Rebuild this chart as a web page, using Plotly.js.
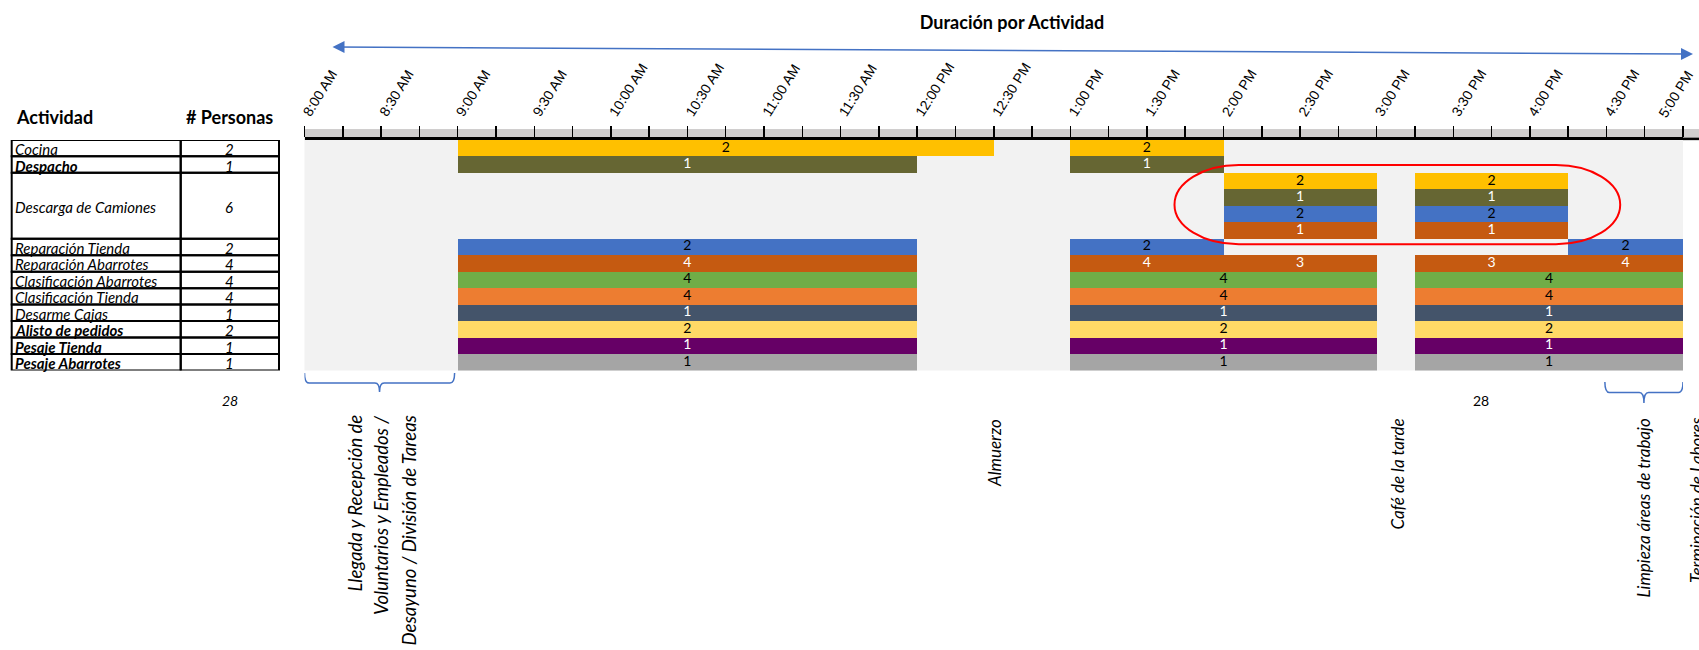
<!DOCTYPE html>
<html>
<head>
<meta charset="utf-8">
<script src="https://cdn.plot.ly/plotly-3.0.1.min.js"></script>
<style>
  html, body { margin: 0; padding: 0; background: #fff; }
  #grafico { width: 1699px; height: 650px; }
</style>
</head>
<body>
<div id="grafico"></div>
<script>
// Actividades de la jornada y personas asignadas a cada una
const actividades = ['Cocina', 'Despacho', 'Descarga de Camiones', 'Reparación Tienda',
  'Reparación Abarrotes', 'Clasificación Abarrotes', 'Clasificación Tienda', 'Desarme Cajas',
  'Alisto de pedidos', 'Pesaje Tienda', 'Pesaje Abarrotes'];
const personas = [2, 1, 6, 2, 4, 4, 4, 1, 2, 1, 1];
// Filas del diagrama que ocupa cada actividad (la descarga usa cuatro cuadrillas)
const filasPorActividad = [1, 1, 4, 1, 1, 1, 1, 1, 1, 1, 1];

// Escala horaria (horas decimales) y sus etiquetas
const horas = [8, 8.5, 9, 9.5, 10, 10.5, 11, 11.5, 12, 12.5, 13, 13.5, 14, 14.5, 15, 15.5, 16, 16.5, 17];
const etiquetasHora = ['8:00 AM', '8:30 AM', '9:00 AM', '9:30 AM', '10:00 AM', '10:30 AM', '11:00 AM',
  '11:30 AM', '12:00 PM', '12:30 PM', '1:00 PM', '1:30 PM', '2:00 PM', '2:30 PM', '3:00 PM',
  '3:30 PM', '4:00 PM', '4:30 PM', '5:00 PM'];

// Bloques de trabajo: fila, hora de inicio, hora de fin, personas y grupo
const bloqueFila = [0, 0, 1, 1, 2, 2, 3, 3, 4, 4, 5, 5, 6, 6, 6, 7, 7, 7, 7, 7,
  8, 8, 8, 9, 9, 9, 10, 10, 10, 11, 11, 11, 12, 12, 12, 13, 13, 13];
const bloqueInicio = [9, 13, 9, 13, 14, 15.25, 14, 15.25, 14, 15.25, 14, 15.25, 9, 13, 16.25,
  9, 13, 14, 15.25, 16.25, 9, 13, 15.25, 9, 13, 15.25, 9, 13, 15.25, 9, 13, 15.25,
  9, 13, 15.25, 9, 13, 15.25];
const bloqueFin = [12.5, 14, 12, 14, 15, 16.25, 15, 16.25, 15, 16.25, 15, 16.25, 12, 14, 17,
  12, 14, 15, 16.25, 17, 12, 15, 17, 12, 15, 17, 12, 15, 17, 12, 15, 17, 12, 15, 17, 12, 15, 17];
const bloquePersonas = [2, 2, 1, 1, 2, 2, 1, 1, 2, 2, 1, 1, 2, 2, 2, 4, 4, 3, 3, 4,
  4, 4, 4, 4, 4, 4, 1, 1, 1, 2, 2, 2, 1, 1, 1, 1, 1, 1];
const bloqueGrupo = ['cocina', 'cocina', 'despacho', 'despacho', 'cocina', 'cocina',
  'despacho', 'despacho', 'repTienda', 'repTienda', 'repAbarrotes', 'repAbarrotes',
  'repTienda', 'repTienda', 'repTienda',
  'repAbarrotes', 'repAbarrotes', 'repAbarrotes', 'repAbarrotes', 'repAbarrotes',
  'clasAbarrotes', 'clasAbarrotes', 'clasAbarrotes', 'clasTienda', 'clasTienda', 'clasTienda',
  'desarme', 'desarme', 'desarme', 'alisto', 'alisto', 'alisto',
  'pesajeTienda', 'pesajeTienda', 'pesajeTienda', 'pesajeAbarrotes', 'pesajeAbarrotes', 'pesajeAbarrotes'];

// Notas bajo el diagrama
const notas = ['Almuerzo', 'Café de la tarde', 'Limpieza áreas de trabajo', 'Terminación de Labores'];
const notaLlegada = ['Llegada y Recepción de', 'Voluntarios y Empleados /', 'Desayuno / División de Tareas'];

// ---- estilos ----
const colorGrupo = {
  cocina: '#ffc000', despacho: '#666633', repTienda: '#4472c4', repAbarrotes: '#c55a11',
  clasAbarrotes: '#70ad47', clasTienda: '#ed7d31', desarme: '#44546a', alisto: '#ffd966',
  pesajeTienda: '#660066', pesajeAbarrotes: '#a5a5a5'
};
const textoGrupo = {
  cocina: '#000', despacho: '#fff', repTienda: '#000', repAbarrotes: '#fff',
  clasAbarrotes: '#000', clasTienda: '#000', desarme: '#fff', alisto: '#000',
  pesajeTienda: '#fff', pesajeAbarrotes: '#000'
};
const negrita = [false, true, false, false, false, false, false, false, true, true, true];

const W = 1699, H = 650;
const px = v => v / W;           // píxel horizontal -> papel
const py = v => 1 - v / H;       // píxel vertical -> papel
const X0 = 304.5, X1 = 1683, YTOP = 139.9, YBOT = 370.5;
const FUENTE = 'Lato, "Open Sans", sans-serif';
const FUENTE_EJE = '"Liberation Sans", Arial, sans-serif';
const azul = '#4472c4';

// ---- trazas ----
const barras = {
  type: 'bar', orientation: 'h',
  y: bloqueFila.map(f => f + 0.5),
  base: bloqueInicio,
  x: bloqueInicio.map((s, i) => bloqueFin[i] - s),
  width: bloqueFila.map(() => 1),
  marker: { color: bloqueGrupo.map(g => colorGrupo[g]), line: { width: 0 } },
  hoverinfo: 'skip', showlegend: false
};
const etiquetas = {
  type: 'scatter', mode: 'text',
  x: bloqueInicio.map((s, i) => (s + bloqueFin[i]) / 2),
  y: bloqueFila.map(f => f + 0.5),
  text: bloquePersonas.map(String),
  textposition: 'middle center',
  textfont: { family: FUENTE, size: 14, color: bloqueGrupo.map(g => textoGrupo[g]) },
  hoverinfo: 'skip', showlegend: false
};

// ---- tabla de actividades ----
const shapes = [];
const annotations = [];
const colA = px(11.7), colB = px(180.7), colC = px(279);
let fila = 0;
actividades.forEach((act, i) => {
  const f0 = fila, f1 = fila + filasPorActividad[i];
  [[colA, colB], [colB, colC]].forEach(([a, b]) => shapes.push({
    type: 'rect', xref: 'paper', yref: 'y', x0: a, x1: b, y0: f0, y1: f1,
    line: { color: '#000', width: 2 }, fillcolor: 'rgba(0,0,0,0)', layer: 'above'
  }));
  const fnt = { family: FUENTE, size: 15, color: '#000', style: 'italic', weight: negrita[i] ? 'bold' : 'normal' };
  annotations.push({ xref: 'paper', yref: 'y', x: px(13), y: (f0 + f1) / 2, xanchor: 'left', yanchor: 'middle',
    text: act, showarrow: false, font: fnt, yshift: -1 });
  annotations.push({ xref: 'paper', yref: 'y', x: px(229), y: (f0 + f1) / 2, xanchor: 'center', yanchor: 'middle',
    text: String(personas[i]), showarrow: false,
    font: { family: FUENTE, size: 15, color: '#000', style: 'italic' }, yshift: -1 });
  fila = f1;
});
const totalPersonas = personas.reduce((a, b) => a + b, 0);
annotations.push({ xref: 'paper', yref: 'paper', x: px(14), y: py(117), xanchor: 'left', yanchor: 'middle',
  text: 'Actividad', showarrow: false, font: { family: FUENTE, size: 18, color: '#000', weight: 'bold' } });
annotations.push({ xref: 'paper', yref: 'paper', x: px(230), y: py(117), xanchor: 'center', yanchor: 'middle',
  text: '# Personas', showarrow: false, font: { family: FUENTE, size: 18, color: '#000', weight: 'bold' } });
annotations.push({ xref: 'paper', yref: 'paper', x: px(230), y: py(400), xanchor: 'center', yanchor: 'middle',
  text: String(totalPersonas), showarrow: false, font: { family: FUENTE, size: 14, color: '#000', style: 'italic' } });
annotations.push({ xref: 'paper', yref: 'paper', x: px(1481), y: py(400), xanchor: 'center', yanchor: 'middle',
  text: String(totalPersonas), showarrow: false, font: { family: FUENTE, size: 14, color: '#000' } });

// ---- franja de la escala horaria ----
const topPlot = py(YTOP);
shapes.push({ type: 'rect', xref: 'paper', yref: 'paper', x0: px(X0), x1: 1, y0: topPlot, y1: topPlot + 11 / H,
  fillcolor: '#d0cece', line: { width: 0 }, layer: 'below' });
shapes.push({ type: 'line', xref: 'paper', yref: 'paper', x0: px(X1), x1: 1, y0: topPlot + 1 / H, y1: topPlot + 1 / H,
  line: { color: '#000', width: 2.5 } });
// la última etiqueta de hora queda junto al borde derecho: se coloca como nota
const ultima = etiquetasHora.length - 1;
const textoTicks = etiquetasHora.map((t, i) => (i === ultima ? '' : t));
annotations.push({ xref: 'paper', yref: 'paper', x: px(1654), y: py(122), xanchor: 'left', yanchor: 'bottom',
  textangle: -58, text: etiquetasHora[ultima], showarrow: false, borderpad: 0,
  font: { family: FUENTE_EJE, size: 14, color: '#000' } });

// ---- óvalo que resalta la descarga de camiones ----
function ovalo(x0, x1, y0, y1, rx) {
  const k = 0.5523, ry = (y1 - y0) / 2, ym = (y0 + y1) / 2;
  return `M ${x0 + rx},${y0} L ${x1 - rx},${y0} ` +
    `C ${x1 - rx + k * rx},${y0} ${x1},${ym - k * ry} ${x1},${ym} ` +
    `C ${x1},${ym + k * ry} ${x1 - rx + k * rx},${y1} ${x1 - rx},${y1} ` +
    `L ${x0 + rx},${y1} ` +
    `C ${x0 + rx - k * rx},${y1} ${x0},${ym + k * ry} ${x0},${ym} ` +
    `C ${x0},${ym - k * ry} ${x0 + rx - k * rx},${y0} ${x0 + rx},${y0} Z`;
}
shapes.push({ type: 'path', xref: 'x', yref: 'y', path: ovalo(13.68, 16.59, 1.53, 6.33, 0.42),
  line: { color: '#ff0000', width: 2 }, layer: 'above' });

// ---- llaves bajo el diagrama ----
function llave(xa, xb, yTop, yMid, yStem) {
  const d = 0.03, xc = (xa + xb) / 2;
  const t = py(yTop), m = py(yMid), s = py(yStem);
  return `M ${xa},${t} Q ${xa},${m} ${xa + d},${m} L ${xc - d},${m} Q ${xc},${m} ${xc},${s} ` +
    `Q ${xc},${m} ${xc + d},${m} L ${xb - d},${m} Q ${xb},${m} ${xb},${t}`;
}
shapes.push({ type: 'path', xref: 'x', yref: 'paper', path: llave(8.0, 8.98, 373, 383, 392),
  line: { color: azul, width: 1.5 } });
shapes.push({ type: 'path', xref: 'x', yref: 'paper', path: llave(16.49, 17.0, 382, 392.5, 403),
  line: { color: azul, width: 1.5 } });

// ---- notas verticales ----
const fNota = { family: FUENTE, size: 17, color: '#000', style: 'italic' };
const fLlegada = { family: FUENTE, size: 18.5, color: '#000', style: 'italic' };
[354, 381, 408].forEach((x, i) => annotations.push({
  xref: 'paper', yref: 'paper', x: px(x), y: py(413), xanchor: 'center', yanchor: 'top',
  textangle: -90, text: notaLlegada[i], showarrow: false, font: fLlegada }));
[[994, 417], [1397, 417], [1643, 417], [1697, 415]].forEach(([x, y], i) => annotations.push({
  xref: 'paper', yref: 'paper', x: px(x), y: py(y), xanchor: 'center', yanchor: 'top',
  textangle: -90, text: notas[i], showarrow: false, font: fNota }));

// ---- flecha de duración ----
annotations.push({ xref: 'paper', yref: 'paper', x: px(1693), y: py(54), ax: 331 - 1693, ay: 47 - 54,
  axref: 'pixel', ayref: 'pixel', text: '', showarrow: true, arrowside: 'end+start',
  arrowhead: 2, arrowsize: 1.6, arrowwidth: 1.5, arrowcolor: azul, standoff: 0, startstandoff: 0 });

const layout = {
  width: W, height: H,
  margin: { l: 0, r: 0, t: 0, b: 0, pad: 0 },
  paper_bgcolor: '#fff', plot_bgcolor: '#f2f2f2',
  showlegend: false, barmode: 'overlay', bargap: 0,
  title: { text: 'Duración por Actividad', x: 1012 / W, xref: 'container', xanchor: 'center',
    y: 1 - 22.7 / H, yref: 'container', yanchor: 'middle',
    font: { family: FUENTE, size: 18, color: '#000', weight: 'bold' } },
  xaxis: {
    domain: [px(X0), px(X1)], range: [8, 17], side: 'top',
    tickmode: 'array', tickvals: horas, ticktext: textoTicks, tickangle: -58,
    ticks: 'outside', ticklen: 11, tickwidth: 1.5, tickcolor: '#000',
    minor: { tick0: 8, dtick: 0.25, ticks: 'outside', ticklen: 11, tickwidth: 1.5, tickcolor: '#000', showgrid: false },
    showline: true, linecolor: '#000', linewidth: 2.5,
    showgrid: false, zeroline: false, fixedrange: true,
    tickfont: { family: FUENTE_EJE, size: 14, color: '#000' }
  },
  yaxis: { domain: [py(YBOT), py(YTOP)], range: [14, 0], visible: false, fixedrange: true },
  shapes: shapes,
  annotations: annotations
};

Plotly.newPlot('grafico', [barras, etiquetas], layout, { displayModeBar: false, staticPlot: true });
</script>
</body>
</html>
